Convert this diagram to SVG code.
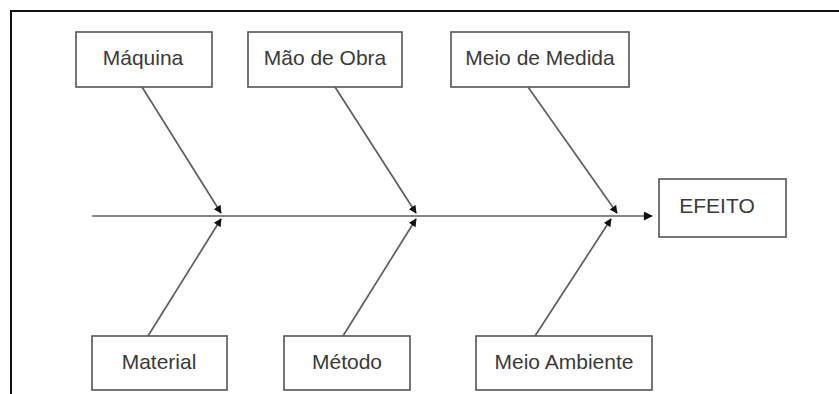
<svg xmlns="http://www.w3.org/2000/svg" width="839" height="394" viewBox="0 0 839 394">
  <defs>
    <marker id="head" viewBox="0 0 10 10" refX="9" refY="5" markerWidth="8" markerHeight="8" markerUnits="userSpaceOnUse" orient="auto">
      <path d="M0,0 L10,5 L0,10 z" fill="#111"/>
    </marker>
    <marker id="tip" viewBox="0 0 10 10" refX="9" refY="5" markerWidth="10" markerHeight="9" markerUnits="userSpaceOnUse" orient="auto">
      <path d="M0,0 L10,5 L0,10 z" fill="#111"/>
    </marker>
  </defs>
  <style>
    .box { fill: #fff; stroke: #5e5e5e; stroke-width: 1.7; }
    .lbl { font-family: "Liberation Sans", Arial, sans-serif; font-size: 21px; fill: #3a3a3a; text-anchor: middle; }
    .bone { stroke: #5e5e5e; stroke-width: 1.7; fill: none; }
    .frame { stroke: #111; stroke-width: 2; fill: none; }
  </style>
  <rect width="839" height="394" fill="#fff"/>
  <path class="frame" d="M11,394 V11 H839"/>

  <g id="connectors">
    <line class="bone" x1="92" y1="216" x2="652" y2="216" marker-end="url(#tip)"/>
    <line class="bone" x1="142" y1="87" x2="221" y2="213" marker-end="url(#head)"/>
    <line class="bone" x1="148" y1="336" x2="221" y2="219" marker-end="url(#head)"/>
    <line class="bone" x1="335" y1="87" x2="416" y2="213" marker-end="url(#head)"/>
    <line class="bone" x1="343" y1="336" x2="416" y2="219" marker-end="url(#head)"/>
    <line class="bone" x1="528" y1="87" x2="617" y2="213" marker-end="url(#head)"/>
    <line class="bone" x1="535" y1="336" x2="611" y2="219" marker-end="url(#head)"/>
  </g>

  <g id="maquina">
    <rect class="box" x="76" y="32" width="136" height="55"/>
    <text class="lbl" x="143" y="65">Máquina</text>
  </g>
  <g id="mao-de-obra">
    <rect class="box" x="248" y="32" width="154" height="55"/>
    <text class="lbl" x="325" y="65">Mão de Obra</text>
  </g>
  <g id="meio-de-medida">
    <rect class="box" x="451" y="32" width="178" height="55"/>
    <text class="lbl" x="540" y="65">Meio de Medida</text>
  </g>
  <g id="efeito">
    <rect class="box" x="659" y="179" width="127" height="58"/>
    <text class="lbl" x="717" y="213">EFEITO</text>
  </g>
  <g id="material">
    <rect class="box" x="92" y="336" width="135" height="54"/>
    <text class="lbl" x="159" y="369">Material</text>
  </g>
  <g id="metodo">
    <rect class="box" x="284" y="336" width="126" height="54"/>
    <text class="lbl" x="347" y="369">Método</text>
  </g>
  <g id="meio-ambiente">
    <rect class="box" x="476" y="336" width="176" height="54"/>
    <text class="lbl" x="564" y="369">Meio Ambiente</text>
  </g>
</svg>
